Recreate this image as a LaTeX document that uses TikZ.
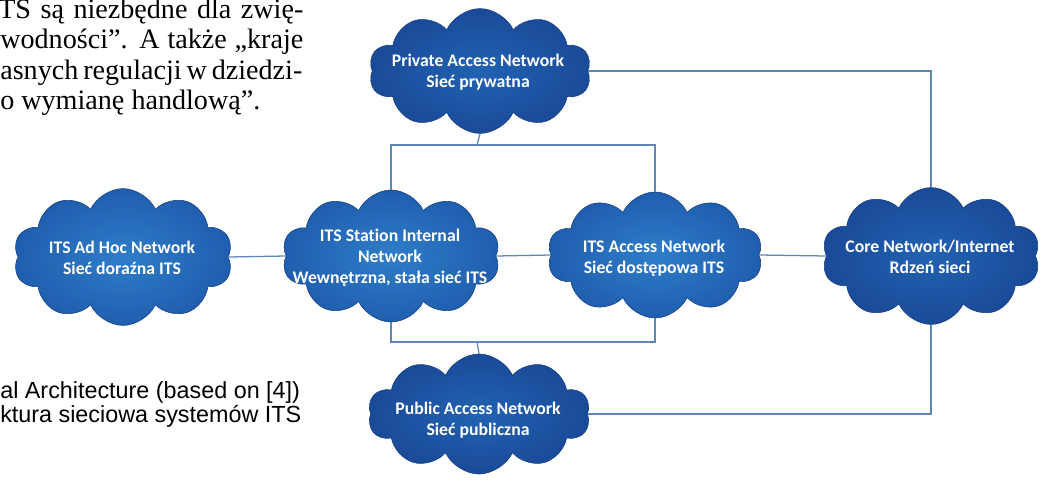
\documentclass[tikz,border=0pt]{standalone}
\usepackage{fontspec}
\setmainfont{Liberation Serif}
\newfontfamily\cloudfont[Ligatures=NoCommon]{Carlito}
\newfontfamily\capfont{Liberation Sans}
\usetikzlibrary{shapes.symbols}

\definecolor{cloudlight}{HTML}{2F7DC8}
\definecolor{cloudmid}{HTML}{1F5EAE}
\definecolor{clouddark}{HTML}{1A4A98}
\definecolor{wire}{HTML}{5F86B5}

\begin{document}
\begin{tikzpicture}[x=0.025cm, y=-0.025cm,
    net/.style={cloud, cloud puffs=10, cloud puff arc=130, aspect=2,
        draw=clouddark!85!black, line width=0.4pt, inner sep=0pt,
        shading=radial, inner color=cloudlight, outer color=cloudmid},
    darknet/.style={net, inner color=cloudmid!85!cloudlight, outer color=clouddark},
    nettext/.style={text=white, align=center, inner sep=0pt,
        font=\cloudfont\bfseries\fontsize{12.6}{14.9}\selectfont},
    article/.style={anchor=base west, inner sep=0pt, font=\fontsize{20}{24}\selectfont},
    caption/.style={anchor=base west, inner sep=0pt, font=\capfont\fontsize{16.6}{20}\selectfont},
    link/.style={draw=wire, line width=0.9pt}]

    \useasboundingbox (0,0) rectangle (1042,482);
    \clip (0,0) rectangle (1042,482);

    % Text of the article above the figure (cut at the left)
    \node[article] (txta) at (-2,18) {\makebox[7.625cm][s]{TS są niezbędne dla zwię-}};
    \node[article] (txtb) at (0,48) {\makebox[7.575cm][s]{wodności”. A także „kraje}};
    \node[article] (txtc) at (0,79) {\makebox[7.55cm][s]{asnych regulacji w dziedzi-}};
    \node[article] (txtd) at (0,109) {o wymianę handlową”.};

    % Caption of the figure (cut at the left)
    \node[caption] (capa) at (0,398) {al Architecture (based on [4])};
    \node[caption] (capb) at (0,422) {ktura sieciowa systemów ITS};

    % The six networks
    \node[darknet, minimum width=5.55cm, minimum height=3.12cm] (private) at (480,71) {};
    \node[net, minimum width=5.48cm, minimum height=3.42cm] (adhoc) at (123,257) {};
    \node[net, minimum width=5.45cm, minimum height=3.3cm] (station) at (391,256) {};
    \node[net, minimum width=5.38cm, minimum height=3.15cm] (access) at (655,255) {};
    \node[darknet, minimum width=5.45cm, minimum height=3.42cm] (core) at (931,256) {};
    \node[darknet, minimum width=5.55cm, minimum height=3.0cm] (public) at (479,414) {};

    % Their names
    \node[nettext] (privatetxt) at (478,72) {Private Access Network\\Sieć prywatna};
    \node[nettext] (adhoctxt) at (122,258) {ITS Ad Hoc Network\\Sieć doraźna ITS};
    \node[nettext] (stationtxt) at (390,258) {ITS Station Internal\\Network\\Wewnętrzna, stała sieć ITS};
    \node[nettext] (accesstxt) at (654,258) {ITS Access Network\\Sieć dostępowa ITS};
    \node[nettext] (coretxt) at (930,257) {Core Network/Internet\\Rdzeń sieci};
    \node[nettext] (publictxt) at (478,420) {Public Access Network\\Sieć publiczna};

    % Bus points above and below the middle row
    \coordinate (topbus) at (477,145);
    \coordinate (botbus) at (477,342);

    % Links
    \draw[link] (private.south) -- (topbus);
    \draw[link] (station.north) |- (topbus) -| (access.north);
    \draw[link] (station.south) |- (botbus) -| (access.south);
    \draw[link] (botbus) -- (public.north);
    \draw[link] (adhoc.east) -- (station.west);
    \draw[link] (station.east) -- (access.west);
    \draw[link] (access.east) -- (core.west);
    \draw[link] (private.east) -| (core.north);
    \draw[link] (public.east) -| (core.south);

\end{tikzpicture}
\end{document}
